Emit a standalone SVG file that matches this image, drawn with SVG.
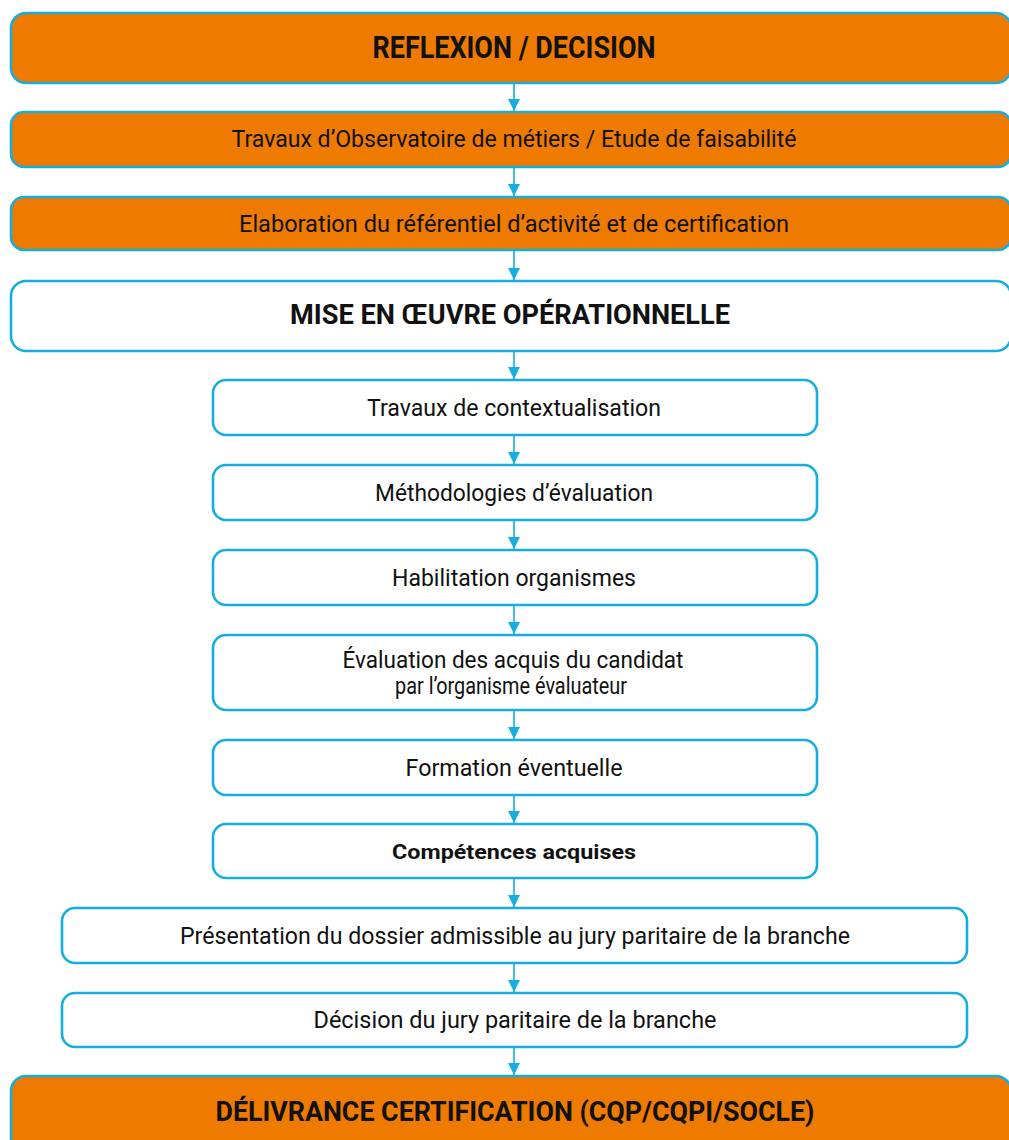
<svg xmlns="http://www.w3.org/2000/svg" width="1009" height="1140" viewBox="0 0 1009 1140">
  <defs>
    <style>
      .box { stroke: #16aedf; stroke-width: 2.6; }
      .orange { fill: #ee7a00; }
      .white { fill: #ffffff; }
      .t { font-family: Roboto, "Liberation Sans", sans-serif; fill: #111111; text-anchor: middle; }
      .reg { font-size: 24px; font-weight: 400; }
      .big { font-size: 28px; font-weight: 700; }
      .mid { font-size: 21px; font-weight: 700; }
      .conn line { stroke: #16aedf; stroke-width: 1.6; }
    </style>
    <marker id="head" viewBox="0 0 12 12" refX="12" refY="6" markerWidth="12" markerHeight="12" markerUnits="userSpaceOnUse" orient="auto">
      <path d="M0,0 L12,6 L0,12 Z" fill="#16aedf"/>
    </marker>
  </defs>
  <rect width="1009" height="1140" fill="#ffffff"/>

  <!-- connectors: straight drops down the centre line -->
  <g id="connectors" class="conn">
    <line x1="514" y1="84" x2="514" y2="111" marker-end="url(#head)"/>
    <line x1="514" y1="168" x2="514" y2="196" marker-end="url(#head)"/>
    <line x1="514" y1="251" x2="514" y2="280" marker-end="url(#head)"/>
    <line x1="514" y1="352" x2="514" y2="379" marker-end="url(#head)"/>
    <line x1="514" y1="436" x2="514" y2="464" marker-end="url(#head)"/>
    <line x1="514" y1="521" x2="514" y2="549" marker-end="url(#head)"/>
    <line x1="514" y1="606" x2="514" y2="634" marker-end="url(#head)"/>
    <line x1="514" y1="711" x2="514" y2="739" marker-end="url(#head)"/>
    <line x1="514" y1="796" x2="514" y2="823" marker-end="url(#head)"/>
    <line x1="514" y1="879" x2="514" y2="907" marker-end="url(#head)"/>
    <line x1="514" y1="964" x2="514" y2="992" marker-end="url(#head)"/>
    <line x1="514" y1="1048" x2="514" y2="1075" marker-end="url(#head)"/>
  </g>

  <g id="reflexion">
    <rect class="box orange" x="11" y="13" width="1000" height="70" rx="15"/>
    <text class="t big" x="514" y="58" textLength="283" lengthAdjust="spacingAndGlyphs" style="font-size:32px">REFLEXION / DECISION</text>
  </g>
  <g id="observatoire">
    <rect class="box orange" x="11" y="112" width="1000" height="55" rx="13"/>
    <text class="t reg" x="514" y="147" textLength="565" lengthAdjust="spacingAndGlyphs">Travaux d’Observatoire de métiers / Etude de faisabilité</text>
  </g>
  <g id="referentiel">
    <rect class="box orange" x="11" y="197" width="1000" height="53" rx="13"/>
    <text class="t reg" x="514" y="232" textLength="550" lengthAdjust="spacingAndGlyphs">Elaboration du référentiel d’activité et de certification</text>
  </g>
  <g id="mise-en-oeuvre">
    <rect class="box white" x="11" y="281" width="1000" height="70" rx="15"/>
    <text class="t big" x="510" y="324" textLength="440" lengthAdjust="spacingAndGlyphs">MISE EN ŒUVRE OPÉRATIONNELLE</text>
  </g>
  <g id="contextualisation">
    <rect class="box white" x="213" y="380" width="604" height="55" rx="13"/>
    <text class="t reg" x="514" y="416" textLength="294" lengthAdjust="spacingAndGlyphs">Travaux de contextualisation</text>
  </g>
  <g id="methodologies">
    <rect class="box white" x="213" y="465" width="604" height="55" rx="13"/>
    <text class="t reg" x="514" y="501" textLength="278" lengthAdjust="spacingAndGlyphs">Méthodologies d’évaluation</text>
  </g>
  <g id="habilitation">
    <rect class="box white" x="213" y="550" width="604" height="55" rx="13"/>
    <text class="t reg" x="514" y="586" textLength="244" lengthAdjust="spacingAndGlyphs">Habilitation organismes</text>
  </g>
  <g id="evaluation">
    <rect class="box white" x="213" y="635" width="604" height="75" rx="13"/>
    <text class="t reg" x="513" y="668" textLength="341" lengthAdjust="spacingAndGlyphs">Évaluation des acquis du candidat</text>
    <text class="t reg" x="511" y="694" textLength="232" lengthAdjust="spacingAndGlyphs">par l’organisme évaluateur</text>
  </g>
  <g id="formation">
    <rect class="box white" x="213" y="740" width="604" height="55" rx="13"/>
    <text class="t reg" x="514" y="776" textLength="217" lengthAdjust="spacingAndGlyphs">Formation éventuelle</text>
  </g>
  <g id="competences">
    <rect class="box white" x="213" y="824" width="604" height="54" rx="13"/>
    <text class="t mid" x="514" y="859" textLength="244" lengthAdjust="spacingAndGlyphs">Compétences acquises</text>
  </g>
  <g id="presentation">
    <rect class="box white" x="62" y="908" width="905" height="55" rx="13"/>
    <text class="t reg" x="515" y="944" textLength="670" lengthAdjust="spacingAndGlyphs">Présentation du dossier admissible au jury paritaire de la branche</text>
  </g>
  <g id="decision-jury">
    <rect class="box white" x="62" y="993" width="905" height="54" rx="13"/>
    <text class="t reg" x="515" y="1028" textLength="403" lengthAdjust="spacingAndGlyphs">Décision du jury paritaire de la branche</text>
  </g>
  <g id="delivrance">
    <rect class="box orange" x="11" y="1076" width="1000" height="80" rx="15"/>
    <text class="t big" x="515" y="1121" textLength="599" lengthAdjust="spacingAndGlyphs">DÉLIVRANCE CERTIFICATION (CQP/CQPI/SOCLE)</text>
  </g>
</svg>
